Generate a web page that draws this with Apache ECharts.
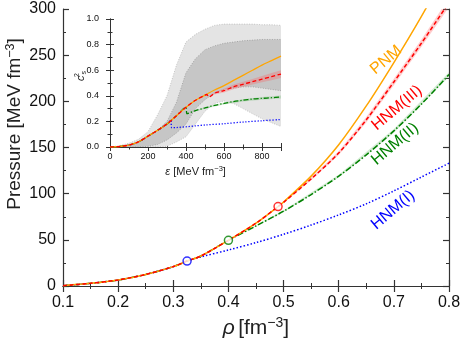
<!DOCTYPE html>
<html>
<head>
<meta charset="utf-8">
<script src="https://cdn.jsdelivr.net/npm/echarts@6/dist/echarts.min.js"></script>
<style>
  html, body { margin: 0; padding: 0; background: #fff; }
  #chart { width: 464px; height: 338px; }
</style>
</head>
<body>
<div id="chart"></div>
<script>
// main panel: pressure vs density
const rhoPNM = [0.1, 0.15, 0.2, 0.25, 0.3, 0.325, 0.35, 0.4, 0.45, 0.49, 0.5, 0.55, 0.6, 0.65, 0.7, 0.75, 0.8];
const pPNM = [0.4, 2.9, 6.5, 12.5, 21, 27, 32.5, 49.5, 68, 86, 91, 119, 153, 195, 242, 292, 346];
const rhoHNM3 = [0.1, 0.15, 0.2, 0.25, 0.3, 0.325, 0.35, 0.4, 0.45, 0.49, 0.5, 0.55, 0.6, 0.65, 0.7, 0.75, 0.8];
const pHNM3 = [0.4, 2.9, 6.5, 12.5, 21, 27, 32.5, 49.5, 68, 86, 90.5, 116, 144, 180, 221, 263, 307];
const rhoHNM2 = [0.1, 0.15, 0.2, 0.25, 0.3, 0.325, 0.35, 0.4, 0.45, 0.5, 0.55, 0.6, 0.65, 0.7, 0.75, 0.8];
const pHNM2 = [0.4, 2.9, 6.5, 12.5, 21, 27, 32.5, 49.5, 65, 81, 99, 119, 142, 168, 197, 229];
const rhoHNM1 = [0.1, 0.15, 0.2, 0.25, 0.3, 0.325, 0.35, 0.4, 0.45, 0.5, 0.55, 0.6, 0.65, 0.7, 0.75, 0.8];
const pHNM1 = [0.4, 2.9, 6.5, 12.5, 21, 27, 31.5, 39, 47, 56, 66, 77, 89, 103, 118, 133];
const rhoBand3 = [0.49, 0.5, 0.55, 0.6, 0.65, 0.7, 0.75, 0.8];
const pBand3Lo = [86, 90, 114.5, 142, 177, 217.5, 259, 302];
const pBand3Hi = [86, 91, 117.5, 146, 183, 224.5, 267, 312];
const rhoBand2 = [0.4, 0.5, 0.6, 0.7, 0.8];
const pBand2Lo = [49.5, 80, 117.5, 166, 226.5];
const pBand2Hi = [49.5, 82, 120.5, 170, 231.5];
// onset of hyperons
const rhoOnset = [0.325, 0.4, 0.49];
const pOnset = [27, 49.5, 86];
const onsetColors = ['#0000ff', '#008000', '#ff0000'];

// inset: sound speed squared vs energy density
const epsGrid = [0, 50, 100, 150, 200, 250, 300, 350, 400, 450, 500, 550, 600, 650, 700, 750, 800, 850, 900];
const csLightLo = [0, 0, 0, 0, 0, 0, 0.005, 0.04, 0.08, 0.18, 0.28, 0.34, 0.36, 0.34, 0.3, 0.26, 0.22, 0.19, 0.16];
const csLightHi = [0, 0.01, 0.03, 0.06, 0.12, 0.25, 0.4, 0.64, 0.82, 0.88, 0.92, 0.95, 0.96, 0.96, 0.96, 0.96, 0.955, 0.955, 0.95];
const csDarkLo = [0, 0, 0, 0, 0.005, 0.02, 0.055, 0.11, 0.18, 0.3, 0.37, 0.42, 0.45, 0.46, 0.47, 0.47, 0.46, 0.45, 0.44];
const csDarkHi = [0, 0.004, 0.015, 0.04, 0.085, 0.13, 0.2, 0.35, 0.58, 0.69, 0.76, 0.79, 0.81, 0.82, 0.83, 0.835, 0.84, 0.84, 0.84];
const epsPNM = [0, 50, 100, 150, 200, 250, 300, 350, 400, 450, 500, 550, 600, 650, 700, 750, 800, 850, 900];
const csPNM = [0, 0.004, 0.015, 0.04, 0.085, 0.13, 0.18, 0.245, 0.31, 0.365, 0.405, 0.445, 0.48, 0.52, 0.56, 0.6, 0.64, 0.675, 0.71];
const epsHNM3 = [0, 50, 100, 150, 200, 250, 300, 350, 400, 450, 500, 510, 520, 550, 600, 650, 700, 750, 800, 850, 900];
const csHNM3 = [0, 0.004, 0.015, 0.04, 0.085, 0.13, 0.18, 0.245, 0.31, 0.365, 0.405, 0.41, 0.39, 0.42, 0.44, 0.47, 0.49, 0.51, 0.53, 0.55, 0.57];
const epsHNM2 = [0, 50, 100, 150, 200, 250, 300, 350, 400, 405, 450, 500, 550, 600, 650, 700, 750, 800, 850, 900];
const csHNM2 = [0, 0.004, 0.015, 0.04, 0.085, 0.13, 0.18, 0.245, 0.31, 0.26, 0.285, 0.305, 0.325, 0.34, 0.355, 0.365, 0.375, 0.38, 0.385, 0.39];
const epsHNM1 = [0, 50, 100, 150, 200, 250, 300, 320, 325, 350, 400, 450, 500, 600, 700, 800, 900];
const csHNM1 = [0, 0.004, 0.015, 0.04, 0.085, 0.13, 0.18, 0.21, 0.15, 0.152, 0.158, 0.165, 0.172, 0.182, 0.195, 0.205, 0.215];
const epsBand3 = [520, 550, 600, 650, 700, 750, 800, 850, 900];
const csBand3Lo = [0.39, 0.41, 0.425, 0.452, 0.47, 0.488, 0.505, 0.522, 0.54];
const csBand3Hi = [0.39, 0.43, 0.455, 0.488, 0.51, 0.532, 0.555, 0.578, 0.6];
const epsBand2 = [405, 500, 600, 700, 800, 900];
const csBand2Lo = [0.26, 0.298, 0.332, 0.356, 0.37, 0.378];
const csBand2Hi = [0.26, 0.312, 0.348, 0.374, 0.39, 0.402];

const FONT = '"Liberation Sans", Arial, sans-serif';
const pairs = (xs, ys) => xs.map((x, i) => [x, ys[i]]);

function frameAxis(extra) {
  return Object.assign({
    type: 'value',
    axisLine: { show: true, lineStyle: { color: '#333', width: 1.2 } },
    axisTick: { show: true, inside: true, length: 6, lineStyle: { color: '#333', width: 1.2 } },
    minorTick: { show: true, splitNumber: 2, length: 3, lineStyle: { color: '#333', width: 1 } },
    splitLine: { show: false },
    axisLabel: { show: false }
  }, extra);
}

const insetTick = {
  axisTick: { show: true, inside: true, length: 4, lineStyle: { color: '#333', width: 1 } },
  minorTick: { show: true, splitNumber: 2, length: 2.5, lineStyle: { color: '#333', width: 1 } },
  axisLine: { show: true, lineStyle: { color: '#333', width: 1 } }
};

function line(name, xi, yi, xs, ys, color, type, width, z) {
  return {
    name: name, type: 'line', xAxisIndex: xi, yAxisIndex: yi,
    data: pairs(xs, ys), showSymbol: false, smooth: 0.3, z: z,
    lineStyle: { color: color, type: type, width: width }
  };
}

// filled band between lo and hi, drawn through the axis scales
function band(xi, yi, xs, lo, hi, fill, edge, z) {
  return {
    type: 'custom', xAxisIndex: xi, yAxisIndex: yi, z: z, silent: true,
    data: [[xs[0], lo[0]]],
    renderItem: function (params, api) {
      const top = xs.map((x, i) => api.coord([x, hi[i]]));
      const bot = xs.map((x, i) => api.coord([x, lo[i]]));
      const cs = params.coordSys;
      const children = [{
        type: 'polygon',
        shape: { points: top.concat(bot.slice().reverse()) },
        style: { fill: fill, stroke: null }
      }];
      if (edge) {
        [top, bot].forEach(pts => children.push({
          type: 'polyline', shape: { points: pts },
          style: { stroke: edge, lineWidth: 0.7, lineDash: [1, 1.5], fill: null }
        }));
      }
      return {
        type: 'group', children: children,
        clipPath: { type: 'rect', shape: { x: cs.x, y: cs.y, width: cs.width, height: cs.height } }
      };
    }
  };
}

const chart = echarts.init(document.getElementById('chart'), null, { renderer: 'canvas' });

const tickFont = { fontFamily: FONT, color: '#111' };

chart.setOption({
  animation: false,
  backgroundColor: '#fff',
  grid: [
    { left: 63, right: 15, top: 9, bottom: 52, outerBoundsMode: 'none' },
    { left: 110, top: 19, width: 171, height: 128, outerBoundsMode: 'none' }
  ],
  xAxis: [
    frameAxis({
      gridIndex: 0, position: 'bottom', min: 0.1, max: 0.8, interval: 0.1,
      axisLabel: Object.assign({ show: true, fontSize: 16, margin: 9, formatter: v => v.toFixed(1) }, tickFont),
      name: '{i|ρ} {n|[fm}{s|−3}{n|]}', nameLocation: 'middle', nameGap: 22,
      nameTextStyle: {
        rich: {
          i: { fontFamily: FONT, fontSize: 21, fontStyle: 'italic', color: '#222', lineHeight: 24 },
          n: { fontFamily: FONT, fontSize: 21, color: '#222', lineHeight: 24 },
          s: { fontFamily: FONT, fontSize: 14, color: '#222', verticalAlign: 'top', lineHeight: 14 }
        }
      }
    }),
    frameAxis({ gridIndex: 0, position: 'top', min: 0.1, max: 0.8, interval: 0.1 }),
    frameAxis(Object.assign({
      gridIndex: 1, position: 'bottom', min: 0, max: 900, interval: 200,
      axisLabel: Object.assign({ show: true, fontSize: 9, margin: 5, showMaxLabel: false }, tickFont),
      name: '{i|ε} {n|[MeV fm}{s|−3}{n|]}', nameLocation: 'middle', nameGap: 18,
      nameTextStyle: {
        rich: {
          i: { fontFamily: FONT, fontSize: 11, fontStyle: 'italic', color: '#222', lineHeight: 13 },
          n: { fontFamily: FONT, fontSize: 11, color: '#222', lineHeight: 13 },
          s: { fontFamily: FONT, fontSize: 7.5, color: '#222', verticalAlign: 'top', lineHeight: 8 }
        }
      }
    }, insetTick)),
    frameAxis(Object.assign({ gridIndex: 1, position: 'top', min: 0, max: 900, interval: 200 }, insetTick))
  ],
  yAxis: [
    frameAxis({
      gridIndex: 0, position: 'left', min: 0, max: 300, interval: 50,
      axisLabel: Object.assign({ show: true, fontSize: 16, margin: 7 }, tickFont)
    }),
    frameAxis({ gridIndex: 0, position: 'right', min: 0, max: 300, interval: 50 }),
    frameAxis(Object.assign({
      gridIndex: 1, position: 'left', min: 0, max: 1, interval: 0.2,
      axisLabel: Object.assign({ show: true, fontSize: 9, margin: 11, formatter: v => v.toFixed(1) }, tickFont)
    }, insetTick)),
    frameAxis(Object.assign({ gridIndex: 1, position: 'right', min: 0, max: 1, interval: 0.2 }, insetTick))
  ],
  series: [
    // main panel
    band(0, 0, rhoBand3, pBand3Lo, pBand3Hi, 'rgba(255,90,90,0.3)', null, 2),
    band(0, 0, rhoBand2, pBand2Lo, pBand2Hi, 'rgba(60,170,60,0.22)', null, 2),
    line('HNM(I)', 0, 0, rhoHNM1, pHNM1, '#0000ff', [1.5, 2], 1.5, 3),
    line('HNM(II)', 0, 0, rhoHNM2, pHNM2, '#008000', [6, 2, 1.5, 2], 1.5, 4),
    line('PNM', 0, 0, rhoPNM, pPNM, '#ffa500', 'solid', 1.5, 5),
    line('HNM(III)', 0, 0, rhoHNM3, pHNM3, '#ff0000', [4, 2.5], 1.5, 6),
    {
      type: 'scatter', xAxisIndex: 0, yAxisIndex: 0, z: 10,
      symbol: 'circle', symbolSize: 8,
      data: pairs(rhoOnset, pOnset).map((d, i) => ({
        value: d,
        itemStyle: { color: '#fff', borderColor: onsetColors[i], borderWidth: 1.5 }
      }))
    },
    // inset
    band(2, 2, epsGrid, csLightLo, csLightHi, '#e4e4e4', '#b0b0b0', 1),
    band(2, 2, epsGrid, csDarkLo, csDarkHi, '#c6c6c6', '#909090', 1),
    band(2, 2, epsBand3, csBand3Lo, csBand3Hi, 'rgba(255,90,90,0.3)', null, 2),
    band(2, 2, epsBand2, csBand2Lo, csBand2Hi, 'rgba(60,170,60,0.22)', null, 2),
    line('HNM(I)', 2, 2, epsHNM1, csHNM1, '#0000ff', [1.2, 1.8], 1.3, 3),
    line('HNM(II)', 2, 2, epsHNM2, csHNM2, '#008000', [5, 2, 1.2, 2], 1.3, 4),
    line('PNM', 2, 2, epsPNM, csPNM, '#ffa500', 'solid', 1.3, 5),
    line('HNM(III)', 2, 2, epsHNM3, csHNM3, '#ff0000', [4, 2.5], 1.3, 6)
  ],
  graphic: [
    {
      type: 'text', x: 15, y: 124, rotation: Math.PI / 2,
      style: {
        text: '{n|Pressure [MeV fm}{s|−3}{n|]}',
        align: 'center', verticalAlign: 'middle',
        rich: {
          n: { fontFamily: FONT, fontSize: 19, fill: '#222', lineHeight: 22 },
          s: { fontFamily: FONT, fontSize: 12.5, fill: '#222', verticalAlign: 'top', lineHeight: 12 }
        }
      }
    },
    {
      type: 'text', x: 81, y: 76, rotation: Math.PI / 2,
      style: {
        text: '{c|c}{t|2}{b|s}',
        align: 'center', verticalAlign: 'middle',
        rich: {
          c: { fontFamily: FONT, fontSize: 11, fontStyle: 'italic', fill: '#222', lineHeight: 14 },
          t: { fontFamily: FONT, fontSize: 7, fill: '#222', verticalAlign: 'top', lineHeight: 7, width: 1 },
          b: { fontFamily: FONT, fontSize: 7, fill: '#222', verticalAlign: 'bottom', lineHeight: 7 }
        }
      }
    },
    { type: 'text', x: 386, y: 60, rotation: 0.7, style: { text: 'PNM', font: '16px ' + FONT, fill: '#ffa500', align: 'center', verticalAlign: 'middle' } },
    { type: 'text', x: 397, y: 108, rotation: 0.7, style: { text: 'HNM(III)', font: '16px ' + FONT, fill: '#ff0000', align: 'center', verticalAlign: 'middle' } },
    { type: 'text', x: 395, y: 144, rotation: 0.7, style: { text: 'HNM(II)', font: '16px ' + FONT, fill: '#008000', align: 'center', verticalAlign: 'middle' } },
    { type: 'text', x: 393, y: 210, rotation: 0.7, style: { text: 'HNM(I)', font: '16px ' + FONT, fill: '#0000ff', align: 'center', verticalAlign: 'middle' } }
  ]
});
</script>
</body>
</html>
